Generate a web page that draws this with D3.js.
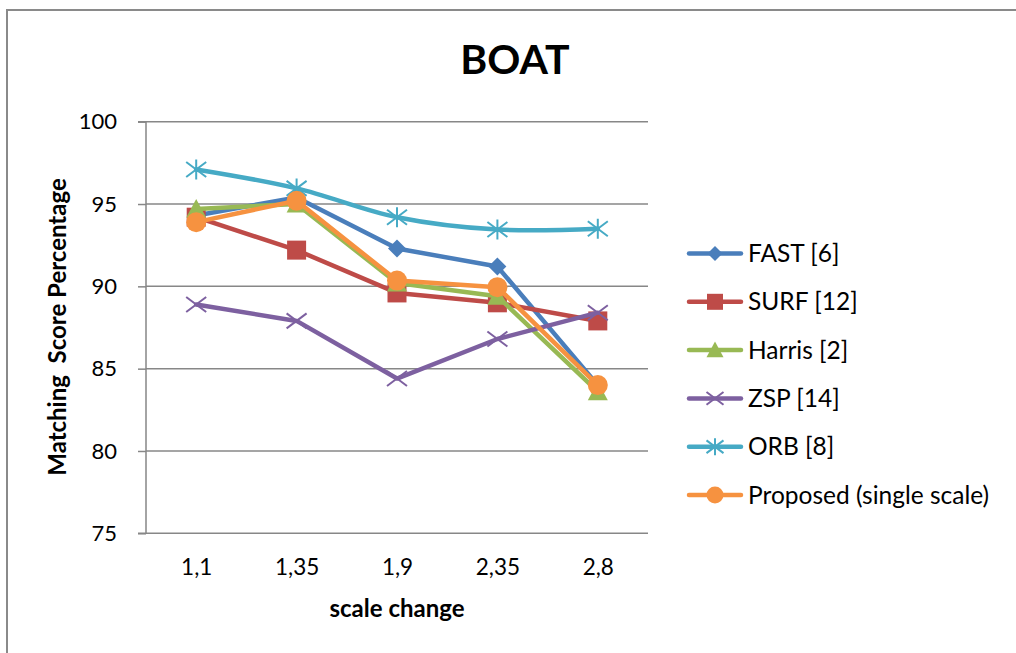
<!DOCTYPE html>
<html>
<head>
<meta charset="utf-8">
<script src="https://cdn.jsdelivr.net/npm/d3@7"></script>
<style>
  html, body { margin: 0; padding: 0; background: #fff; }
  svg { display: block; font-family: Lato, "Open Sans", sans-serif; }
</style>
</head>
<body>
<svg id="chart" width="1016" height="653"></svg>
<script>
const categories = ["1,1", "1,35", "1,9", "2,35", "2,8"];
const yTicks = [75, 80, 85, 90, 95, 100];
const seriesNames = ["FAST [6]", "SURF [12]", "Harris [2]", "ZSP [14]", "ORB [8]", "Proposed (single scale)"];
const fastValues = [94.3, 95.4, 92.3, 91.2, 84.0];
const surfValues = [94.2, 92.2, 89.6, 89.0, 87.9];
const harrisValues = [94.7, 95.0, 90.2, 89.4, 83.6];
const zspValues = [88.9, 87.9, 84.4, 86.8, 88.4];
const orbValues = [97.1, 95.95, 94.2, 93.45, 93.5];
const proposedValues = [93.9, 95.2, 90.35, 89.95, 84.0];
const titleText = "BOAT";
const xTitle = "scale change";
const yTitle = "Matching  Score Percentage";

const colors = ["#4A7EBB", "#BE4B48", "#98B954", "#7D60A0", "#46AAC5", "#F69240"];
const markers = ["diamond", "square", "triangle", "x", "asterisk", "circle"];
const allValues = [fastValues, surfValues, harrisValues, zspValues, orbValues, proposedValues];

const svg = d3.select("#chart");
const pLeft = 146, pRight = 648, pTop = 121.7, pBottom = 533.3;

// chart border
svg.append("path")
  .attr("d", "M7,1100 L7,10 L1100,10")
  .attr("fill", "none").attr("stroke", "#8a8a8a").attr("stroke-width", 2);

const x = d3.scalePoint().domain(categories).range([pLeft, pRight]).padding(0.5);
const y = d3.scaleLinear().domain([75, 100]).range([pBottom, pTop]);

// gridlines
svg.append("g").selectAll("line").data(yTicks).join("line")
  .attr("x1", pLeft).attr("x2", pRight)
  .attr("y1", d => y(d)).attr("y2", d => y(d))
  .attr("stroke", "#878787").attr("stroke-width", 1.5);

// y axis
const yAxis = d3.axisLeft(y).tickValues(yTicks).tickSize(8).tickPadding(20);
const gy = svg.append("g").attr("transform", `translate(${pLeft},0)`).call(yAxis);
gy.select(".domain").attr("stroke", "#878787").attr("stroke-width", 1.5).attr("d", `M-8,${pTop}H0V${pBottom}H-8`);
gy.selectAll(".tick line").attr("stroke", "#878787").attr("stroke-width", 1.5);
gy.selectAll(".tick text").attr("font-size", 22).attr("fill", "#000")
  .attr("font-family", "Lato, sans-serif").attr("dx", -1);

// x axis labels
const xAxis = d3.axisBottom(x).tickSize(0).tickPadding(26);
const gx = svg.append("g").attr("transform", `translate(0,${pBottom})`).call(xAxis);
gx.select(".domain").remove();
gx.selectAll(".tick text").attr("font-size", 22.5).attr("fill", "#000").attr("font-family", "Lato, sans-serif");

// titles
svg.append("text").attr("x", 515).attr("y", 74).attr("text-anchor", "middle")
  .attr("font-size", 41).attr("font-weight", "bold").text(titleText);
svg.append("text").attr("x", (pLeft + pRight) / 2).attr("y", 617).attr("text-anchor", "middle")
  .attr("font-size", 24).attr("font-weight", "bold").text(xTitle);
svg.append("text").attr("transform", "translate(66,327) rotate(-90)").attr("text-anchor", "middle")
  .attr("font-size", 24).attr("font-weight", "bold").style("white-space", "pre").text(yTitle);

function drawMarker(g, type, color, s) {
  const h = s / 2;
  if (type === "diamond") {
    g.append("path").attr("d", `M0,${-h}L${h},0L0,${h}L${-h},0Z`).attr("fill", color);
  } else if (type === "square") {
    g.append("rect").attr("x", -h).attr("y", -h).attr("width", s).attr("height", s).attr("fill", color);
  } else if (type === "triangle") {
    g.append("path").attr("d", `M0,${-h}L${h},${h*0.85}L${-h},${h*0.85}Z`).attr("fill", color);
  } else if (type === "circle") {
    g.append("circle").attr("r", h).attr("fill", color);
  } else if (type === "x") {
    g.append("path").attr("d", `M${-h},${-h*0.75}L${h},${h*0.75}M${-h},${h*0.75}L${h},${-h*0.75}`)
      .attr("stroke", color).attr("stroke-width", 2).attr("fill", "none");
  } else if (type === "asterisk") {
    g.append("path").attr("d", `M${-h},${-h*0.75}L${h},${h*0.75}M${-h},${h*0.75}L${h},${-h*0.75}M0,${-h}L0,${h}`)
      .attr("stroke", color).attr("stroke-width", 2).attr("fill", "none");
  }
}

const markerSizes = [18, 19, 20, 20, 20, 20];

allValues.forEach((vals, i) => {
  const line = d3.line()
    .x((d, j) => x(categories[j]))
    .y(d => y(d))
    .curve(i === 4 ? d3.curveCatmullRom.alpha(0.5) : d3.curveLinear);
  const g = svg.append("g");
  g.append("path").datum(vals).attr("d", line)
    .attr("fill", "none").attr("stroke", colors[i]).attr("stroke-width", 4.5)
    .attr("stroke-linejoin", "round").attr("stroke-linecap", "round");
  vals.forEach((v, j) => {
    const mg = g.append("g").attr("transform", `translate(${x(categories[j])},${y(v)})`);
    drawMarker(mg, markers[i], colors[i], markerSizes[i]);
  });
});

// legend
const legend = svg.append("g");
seriesNames.forEach((name, i) => {
  const ly = 253.5 + i * 48.3;
  const lg = legend.append("g").attr("transform", `translate(0,${ly})`);
  lg.append("line").attr("x1", 689).attr("x2", 741).attr("y1", 0).attr("y2", 0)
    .attr("stroke", colors[i]).attr("stroke-width", 4.5).attr("stroke-linecap", "round");
  const mg = lg.append("g").attr("transform", "translate(715,0)");
  drawMarker(mg, markers[i], colors[i], markerSizes[i] - 3);
  lg.append("text").attr("x", 748).attr("y", 0).attr("dy", "0.35em")
    .attr("font-size", 24.5).attr("fill", "#000").text(name);
});
</script>
</body>
</html>
